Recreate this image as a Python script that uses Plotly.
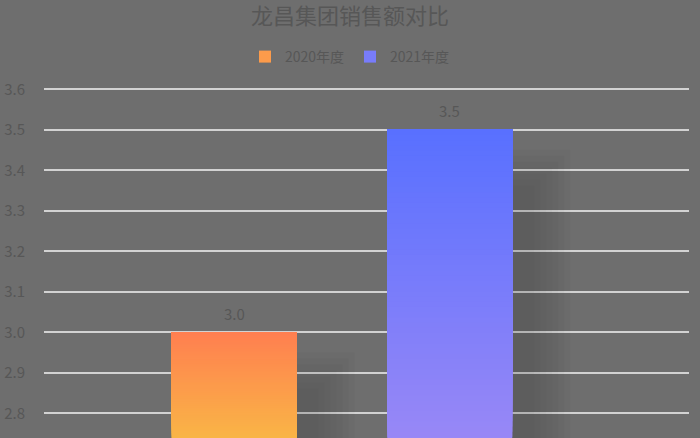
import plotly.graph_objects as go

# ---- data ----
title_text = "龙昌集团销售额对比"
category = ["销售额"]
series_names = ["2020年度", "2021年度"]
values = [3.0, 3.5]
y_tick_values = [2.8, 2.9, 3.0, 3.1, 3.2, 3.3, 3.4, 3.5, 3.6]
y_tick_labels = ["2.8", "2.9", "3.0", "3.1", "3.2", "3.3", "3.4", "3.5", "3.6"]

# ---- style ----
BG = "#6e6e6e"
TEXT = "#575757"
GRID = "#d2d2d2"
FONT = "Noto Sans CJK SC"
top_colors = [(255, 127, 80), (88, 112, 255)]
bottom_colors = [(249, 183, 70), (153, 136, 246)]

W, H = 700, 438
M_L, M_R, M_T, M_B = 44, 11, 86, 0
PX_PER_Y = 405.0
Y_MAX = 3.6 + 3.3 / PX_PER_Y
Y_MIN = Y_MAX - (H - M_T - M_B) / PX_PER_Y
X_RANGE = [-0.6914, 0.8051]
PX_PER_X = (W - M_L - M_R) / (X_RANGE[1] - X_RANGE[0])

bar_centers = [-0.25, 0.25]          # slot positions within the category (axis units)
bar_width = 125 / PX_PER_X
N_SEG = 60

shadow_dx = 40 / PX_PER_X
shadow_dy = 38 / PX_PER_Y
shadow_expand_px = [-18, -12, -6, 0, 6, 12, 18]
shadow_alpha = 0.02


def mix(c0, c1, t):
    return "rgb(%d,%d,%d)" % tuple(round(a + (b - a) * t) for a, b in zip(c0, c1))


fig = go.Figure()

# shadows
for s, name in enumerate(series_names):
    v = values[s]
    for e_px in shadow_expand_px:
        ex = e_px / PX_PER_X
        ey = e_px / PX_PER_Y
        left = bar_centers[s] - bar_width / 2 + shadow_dx - ex
        top = v - shadow_dy + ey
        base = Y_MIN - 0.2
        fig.add_trace(go.Bar(
            x=category, y=[top - base], base=[base],
            width=[bar_width + 2 * ex], offset=[left],
            marker=dict(color="rgba(0,0,0,%.3f)" % shadow_alpha, line=dict(width=0)),
            showlegend=False, hoverinfo="skip", legendgroup=name,
        ))

# gradient bars
for s, name in enumerate(series_names):
    v = values[s]
    for i in range(N_SEG):
        lower = Y_MIN - 0.01 + (v - Y_MIN + 0.01) * i / N_SEG
        t = (i + 0.5) / N_SEG
        fig.add_trace(go.Bar(
            x=category, y=[v - lower], base=[lower],
            width=[bar_width], offset=[bar_centers[s] - bar_width / 2],
            marker=dict(color=mix(bottom_colors[s], top_colors[s], t), line=dict(width=0)),
            name=name, legendgroup=name,
            showlegend=(i == N_SEG // 2),
            hoverinfo="skip" if i != 0 else None,
            hovertemplate=f"{name}: {v}<extra></extra>",
        ))

annotations = []
for s, name in enumerate(series_names):
    annotations.append(dict(
        x=bar_centers[s], y=values[s], xref="x", yref="y",
        text=f"{values[s]:.1f}", showarrow=False, yshift=19,
        font=dict(family=FONT, size=15, color=TEXT),
    ))

fig.update_layout(
    width=W, height=H,
    margin=dict(l=M_L, r=M_R, t=M_T, b=M_B, autoexpand=False),
    paper_bgcolor=BG, plot_bgcolor=BG,
    barmode="overlay",
    font=dict(family=FONT, color=TEXT),
    title=dict(text=title_text, x=0.5, xref="container", xanchor="center",
               y=1 - 16 / H, yref="container", yanchor="middle",
               font=dict(family=FONT, size=22, color=TEXT)),
    legend=dict(orientation="h", x=0.5, xref="container", xanchor="center",
                y=1 - 57 / H, yref="container", yanchor="middle",
                font=dict(family=FONT, size=14, color=TEXT),
                bgcolor="rgba(0,0,0,0)", itemwidth=30, traceorder="normal",
                entrywidth=60, entrywidthmode="pixels"),
    xaxis=dict(range=X_RANGE, visible=False, showgrid=False, fixedrange=True),
    yaxis=dict(range=[Y_MIN, Y_MAX], tickmode="array", tickvals=y_tick_values,
               ticktext=y_tick_labels, showgrid=True, gridcolor=GRID, gridwidth=1.5,
               zeroline=False, showline=False, ticks="", ticklabelstandoff=18,
               tickfont=dict(family=FONT, size=15, color=TEXT)),
    annotations=annotations,
    showlegend=True,
)

fig.write_html(
    "out.html",
    config={"displayModeBar": False},
    post_script="document.body.style.margin='0';document.body.style.background='#6e6e6e';",
)
